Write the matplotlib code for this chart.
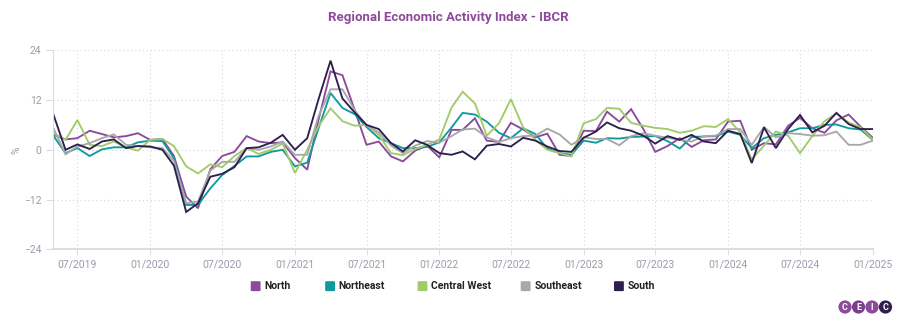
import matplotlib
matplotlib.use("Agg")
import matplotlib.pyplot as plt
import matplotlib.dates as mdates
from matplotlib.patches import Circle, FancyBboxPatch
import pandas as pd

plt.rcParams["font.family"] = ["Roboto", "DejaVu Sans"]

months = pd.date_range("2019-05-01", "2025-01-01", freq="MS")

north = [3.6, 2.5, 2.8, 4.6, 3.8, 3.0, 3.3, 4.0, 2.4, 2.6, -1.5, -11.3, -14.1, -4.7, -1.5,
         -0.5, 3.3, 2.0, 1.6, 1.8, -2.0, -4.8, 7.0, 18.9, 18.0, 9.6, 1.2, 2.0, -1.6, -2.8,
         -0.2, 1.0, -1.8, 4.8, 4.8, 7.6, 2.2, 1.9, 6.5, 4.9, 3.0, 3.9, -1.2, -1.5, 4.6,
         4.5, 9.2, 6.8, 9.8, 5.0, -0.5, 0.9, 2.8, 0.7, 2.3, 2.5, 6.8, 7.0, 0.0, 1.6,
         1.3, 5.8, 7.7, 5.2, 4.1, 7.1, 8.5, 5.6, 2.9]
northeast = [3.4, -0.8, 0.4, -1.5, 0.1, 0.6, 0.6, 1.8, 2.2, 2.1, -2.0, -13.3, -13.3, -9.3, -6.1,
             -3.9, -1.6, -1.6, -0.5, 0.0, -4.0, -3.1, 5.0, 13.7, 10.1, 8.6, 5.5, 2.8, 1.6, 0.4,
             0.4, 0.7, 1.8, 5.4, 8.9, 8.5, 6.8, 4.1, 2.8, 5.2, 3.8, 0.3, -0.8, -1.2, 2.2,
             1.7, 2.8, 2.7, 3.1, 3.2, 3.3, 2.1, 0.3, 3.1, 3.2, 3.3, 4.4, 3.6, 0.4, 2.8,
             3.6, 4.2, 5.2, 5.2, 6.0, 6.1, 5.2, 4.9, 2.4]
central_west = [4.0, 2.4, 7.2, 1.2, 0.9, 2.0, 0.6, -0.2, 2.4, 2.6, 0.9, -4.0, -5.7, -3.5, -4.2,
                -1.5, 0.4, -1.0, 0.0, 1.5, -5.6, 0.0, 5.6, 10.0, 6.9, 5.8, 6.0, 3.6, -0.8, -1.3,
                0.2, 1.2, 2.5, 10.2, 14.0, 11.2, 3.4, 6.4, 12.2, 5.4, 2.4, 0.0, -0.8, -1.6, 6.4,
                7.4, 10.1, 9.9, 6.5, 5.8, 5.3, 5.0, 4.1, 4.6, 5.7, 5.5, 7.4, 4.2, -2.3, 1.0,
                4.4, 3.4, -0.8, 3.3, 6.9, 8.8, 6.6, 5.4, 2.5]
southeast = [5.3, -1.1, 0.8, 1.6, 2.8, 3.7, 1.2, 0.9, 0.6, 0.4, -2.7, -12.9, -12.5, -5.0, -2.9,
             -2.9, 0.4, 0.0, 0.8, 2.0, -1.2, -1.2, 8.0, 14.6, 14.6, 9.6, 5.8, 4.2, 1.0, -0.8,
             1.0, 2.1, 1.7, 3.3, 4.9, 5.1, 3.0, 1.9, 2.8, 3.3, 3.4, 5.1, 3.7, 1.2, 3.0,
             2.6, 2.6, 1.1, 3.3, 4.0, 3.4, 2.9, 2.4, 2.0, 3.3, 3.4, 5.0, 5.0, 1.2, 5.5,
             3.0, 4.0, 3.8, 3.4, 3.5, 4.4, 1.2, 1.2, 2.2]
south = [8.6, 0.0, 1.3, 0.2, 2.0, 2.5, 0.4, 0.9, 0.8, 0.0, -3.8, -15.0, -12.9, -6.5, -5.8,
         -4.2, 0.4, 0.6, 1.7, 3.6, 0.0, 2.8, 12.0, 21.5, 12.4, 9.0, 6.0, 5.0, 1.6, -0.4,
         2.3, 1.2, -0.8, -1.2, -0.4, -2.3, 1.0, 1.4, 0.8, 2.9, 2.2, 0.8, -0.3, -0.5, 2.9,
         4.4, 6.6, 5.2, 4.6, 3.4, 1.5, 3.3, 2.4, 3.6, 2.0, 1.6, 4.6, 3.8, -3.2, 5.4,
         0.4, 5.0, 8.4, 4.2, 5.8, 8.9, 6.2, 5.0, 5.0]

series_names = ["North", "Northeast", "Central West", "Southeast", "South"]
series_values = [north, northeast, central_west, southeast, south]
series_colors = ["#8c4a9c", "#109a9c", "#a2cb6a", "#a8a8a8", "#2f1f4e"]

y_ticks = [-24, -12, 0, 12, 24]

fig = plt.figure(figsize=(8.97, 3.21), dpi=100)
ax = fig.add_axes([0.0594, 0.2234, 0.9136, 0.6199])

for name, vals, col in zip(series_names, series_values, series_colors):
    ax.plot(months, vals, color=col, lw=1.35, label=name, solid_joinstyle="miter")

ax.set_ylim(-24, 24)
ax.set_yticks(y_ticks)
ax.set_xlim(months[0], months[-1])
ax.xaxis.set_major_locator(mdates.MonthLocator(bymonth=[1, 7]))
ax.xaxis.set_major_formatter(mdates.DateFormatter("%m/%Y"))

ax.grid(True, color="#d6d6de", lw=0.8, ls=(0, (1, 2.5)))
ax.set_axisbelow(True)
for side in ["top", "right"]:
    ax.spines[side].set_visible(False)
ax.spines["left"].set_color("#dcdce4")
ax.spines["bottom"].set_color("#dcdce4")
ax.spines["bottom"].set_linewidth(1.5)
ax.tick_params(axis="both", colors="#dcdce4", labelcolor="#9b9bab", labelsize=7.5, length=4)
ax.tick_params(axis="y", length=5)
ax.set_ylabel("%", color="#9b9bab", fontsize=7.5, labelpad=2)

fig.text(0.5, 0.945, "Regional Economic Activity Index - IBCR", ha="center", va="center",
         fontsize=9.5, fontweight="bold", color="#8e4a9a")

# legend row below the plot
leg_x = [0.285, 0.368, 0.471, 0.586, 0.690]
for name, col, lx in zip(series_names, series_colors, leg_x):
    fig.patches.append(FancyBboxPatch((lx - 0.0055, 0.093), 0.011, 0.031,
                                      boxstyle="round,pad=0,rounding_size=0.002",
                                      transform=fig.transFigure, facecolor=col,
                                      edgecolor="none"))
    fig.text(lx + 0.0095, 0.109, name, ha="left", va="center", fontsize=7.5,
             fontweight="bold", color="#222222")

# brand mark in the bottom-right corner
for k, (letter, col) in enumerate(zip("CEIC", ["#8e4a9a", "#7a3f8c", "#8e4a9a", "#2f1f4e"])):
    cx_px = 845 + k * 13.5
    fig.patches.append(Circle((cx_px / 100, 0.14), 0.066,
                              transform=fig.dpi_scale_trans, facecolor=col,
                              edgecolor="none"))
    fig.text(cx_px / 897, 0.14 / 3.21, letter, ha="center", va="center", fontsize=6.5,
             fontweight="bold", color="white")

fig.savefig("out.png", dpi=100)
